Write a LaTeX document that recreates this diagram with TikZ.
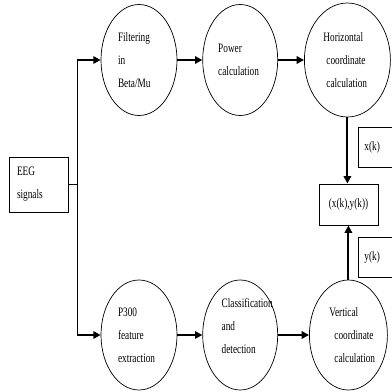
\documentclass[tikz,border=0pt]{standalone}
\usepackage{fontspec}
\setmainfont{Liberation Serif}[FakeStretch=0.72]
\usepackage{tikz}
\usetikzlibrary{positioning,shapes.geometric,arrows.meta}
\pgfdeclarelayer{nodelayer}
\pgfdeclarelayer{edgelayer}
\pgfsetlayers{main,nodelayer,edgelayer}
\hyphenpenalty=10000
\exhyphenpenalty=10000
\tikzstyle{stage}=[ellipse, draw=black, line width=0.6pt, inner sep=0pt, align=left, font=\fontsize{11}{19.5}\selectfont]
\tikzstyle{sigbox}=[rectangle, draw=black, line width=0.8pt, inner sep=0pt, align=left, font=\fontsize{11}{19.5}\selectfont]
\tikzstyle{wire}=[-, draw=black, line width=0.8pt]
\tikzstyle{flow}=[-{Triangle[length=0.22cm, width=0.22cm]}, draw=black, line width=1.7pt]

\begin{document}
\begin{tikzpicture}
        \useasboundingbox (0, 0) rectangle (11.73, -11.76);
        \begin{pgfonlayer}{nodelayer}
            %Top branch
            \node [style=stage, minimum width=2.28cm, minimum height=3.33cm, text width=1.26cm] (Filt) at (4.17, -1.8) {Filtering\\in\\Beta/Mu};
            \node [style=stage, minimum width=2.25cm, minimum height=3.33cm, text width=1.32cm, right= 0.75cm of Filt] (Pow) {Power\\calculation};
            \node [style=stage, minimum width=2.58cm, minimum height=3.42cm, text width=1.44cm, right= 0.78cm of Pow] (Hor) {Horizontal\\\hspace*{0.09cm}coordinate\\\hspace*{0.09cm}calculation};

            %Bottom branch
            \node [style=stage, minimum width=2.28cm, minimum height=3.3cm, text width=1.26cm] (P3) at (4.17, -10.05) {P300\\feature\\extraction};
            \node [style=stage, minimum width=2.25cm, minimum height=3.3cm, text width=1.11cm, right= 0.75cm of P3] (Cls) {Classification\\and\\detection\\[-0.15cm]\mbox{}};
            \node [style=stage, minimum width=2.34cm, minimum height=3.3cm, text width=1.14cm, right= 0.93cm of Cls] (Ver) {Vertical\\\hspace*{0.15cm}coordinate\\\hspace*{0.15cm}calculation};

            %Signals
            \node [style=sigbox, minimum width=1.77cm, minimum height=1.65cm, text width=1.29cm] (In) at (1.155, -5.535) {EEG\\signals};
            \node [style=sigbox, minimum width=1.77cm, minimum height=1.23cm] (XY) at (10.455, -6.135) {(x(k),y(k))};
            \node [style=sigbox, anchor=west, minimum width=1.2cm, minimum height=1.2cm, text width=0.84cm] (Xk) at (10.74, -4.41) {x(k)};
            \node [style=sigbox, anchor=west, minimum width=1.2cm, minimum height=1.2cm, text width=0.84cm] (Yk) at (10.74, -7.71) {y(k)};
            \coordinate (Split) at ([xshift=0.27cm]In.east);
        \end{pgfonlayer}
        \begin{pgfonlayer}{edgelayer}
                \draw [style={wire}] (In.east) to (Split);
                \draw [style={wire}] (Split |- Filt.west) to (Split |- P3.west);

                \draw [style={flow}] (Split |- Filt.west) to (Filt.west);
                \draw [style={flow}] (Filt.east) to (Pow.west);
                \draw [style={flow}] (Pow.east) to (Hor.west);
                \draw [style={flow}] (Hor.south) to (Hor.south |- XY.north);

                \draw [style={flow}] (Split |- P3.west) to (P3.west);
                \draw [style={flow}] (P3.east) to (Cls.west);
                \draw [style={flow}] (Cls.east) to (Ver.west);
                \draw [style={flow}] (Ver.north) to (Ver.north |- XY.south);
        \end{pgfonlayer}
    \end{tikzpicture}
\end{document}
